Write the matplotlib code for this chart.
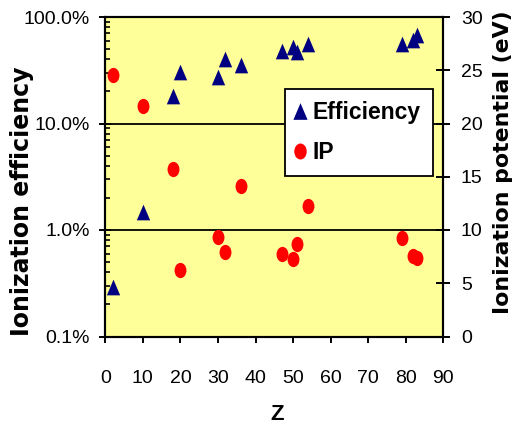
import matplotlib
matplotlib.use("Agg")
import matplotlib.pyplot as plt
from matplotlib.path import Path
from matplotlib.ticker import FuncFormatter, LogLocator, NullFormatter
from matplotlib.lines import Line2D

# Atomic number of each element measured
z_eff = [2, 10, 18, 20, 30, 32, 36, 47, 50, 51, 54, 79, 82, 83]
efficiency_pct = [0.294, 1.49, 18.1, 30.3, 27.2, 40.6, 35.8, 47.6, 52.6, 47.0, 55.3, 55.5, 60.6, 68.0]

z_ip = [2, 10, 18, 20, 30, 32, 36, 47, 50, 51, 54, 79, 82, 83]
ionization_ev = [24.6, 21.6, 15.76, 6.23, 9.37, 7.89, 14.15, 7.73, 7.32, 8.67, 12.27, 9.22, 7.58, 7.37]

x_ticks = [0, 10, 20, 30, 40, 50, 60, 70, 80, 90]
ip_ticks = [0, 5, 10, 15, 20, 25, 30]

plt.rcParams["font.family"] = ["Liberation Sans", "DejaVu Sans"]
WIDE = ["DejaVu Sans"]

# Slightly tall markers
tri_marker = Path([(-0.425, -0.5), (0.425, -0.5), (0.0, 0.5), (-0.425, -0.5)],
                  [Path.MOVETO, Path.LINETO, Path.LINETO, Path.CLOSEPOLY])
circ = Path.unit_circle()
ell_marker = Path(circ.vertices * [0.78, 1.0], circ.codes)

W, H = 519, 424
fig = plt.figure(figsize=(W / 100, H / 100), dpi=100)
fig.patch.set_facecolor("white")

left, right, top, bottom = 105.3, 443.3, 17.0, 336.5
ax = fig.add_axes([left / W, 1 - bottom / H, (right - left) / W, (bottom - top) / H])
ax.set_facecolor("#FFFF99")

ax.set_yscale("log")
ax.set_ylim(0.1, 100)
ax.set_xlim(0, 90)
ax.set_xticks(x_ticks)
ax.yaxis.set_major_locator(LogLocator(base=10, numticks=10))
ax.yaxis.set_minor_locator(LogLocator(base=10, subs=range(2, 10), numticks=20))
ax.yaxis.set_major_formatter(FuncFormatter(lambda v, p: f"{v:.1f}%"))
ax.yaxis.set_minor_formatter(NullFormatter())

ax.yaxis.grid(True, which="major", color="black", linewidth=1.3)
ax.set_axisbelow(True)

for s in ax.spines.values():
    s.set_linewidth(1.5)
    s.set_color("black")

ax.tick_params(axis="y", which="major", direction="inout", length=8, width=1.4,
               pad=7, labelsize=14)
ax.tick_params(axis="y", which="minor", direction="in", length=3.6, width=1.2)
ax.tick_params(axis="x", which="major", direction="out", length=4.3, width=1.4,
               pad=20, labelsize=14)

ax.scatter(z_eff, efficiency_pct, marker=tri_marker, s=11.3 ** 2, color="#000080",
           linewidths=0, zorder=3)

ax2 = ax.twinx()
ax2.set_ylim(0, 30)
ax2.set_yticks(ip_ticks)
ax2.tick_params(axis="y", direction="inout", length=9.4, width=1.4, pad=8, labelsize=14)
for s in ax2.spines.values():
    s.set_linewidth(1.5)

ax2.scatter(z_ip, ionization_ev, marker=ell_marker, s=11.0 ** 2, color="#FF0000",
            linewidths=0, zorder=3)

handles = [
    Line2D([], [], linestyle="none", marker=tri_marker, markersize=12, color="#000080",
           markeredgewidth=0),
    Line2D([], [], linestyle="none", marker=ell_marker, markersize=11.5, color="#FF0000",
           markeredgewidth=0),
]
leg = ax2.legend(handles, ["Efficiency", "IP"], loc="upper left",
                 bbox_to_anchor=(0.5317, 0.7737), frameon=True, fancybox=False,
                 framealpha=1, edgecolor="black", borderpad=0.5, handlelength=0.3,
                 handletextpad=0.42, labelspacing=0.76, borderaxespad=0,
                 prop={"weight": "bold", "size": 16.5})
leg.get_frame().set_linewidth(1.3)

fig.text(22.5 / W, 1 - 201.5 / H, "Ionization efficiency", rotation=90,
         ha="center", va="center", family=WIDE, weight="bold", fontsize=17)
fig.text(503 / W, 1 - 162.5 / H, "Ionization potential (eV)", rotation=90,
         ha="center", va="center", family=WIDE, weight="bold", fontsize=15.8)
fig.text(277 / W, 1 - 414 / H, "Z", ha="center", va="center",
         weight="bold", fontsize=16)

fig.savefig("out.png", dpi=100)
